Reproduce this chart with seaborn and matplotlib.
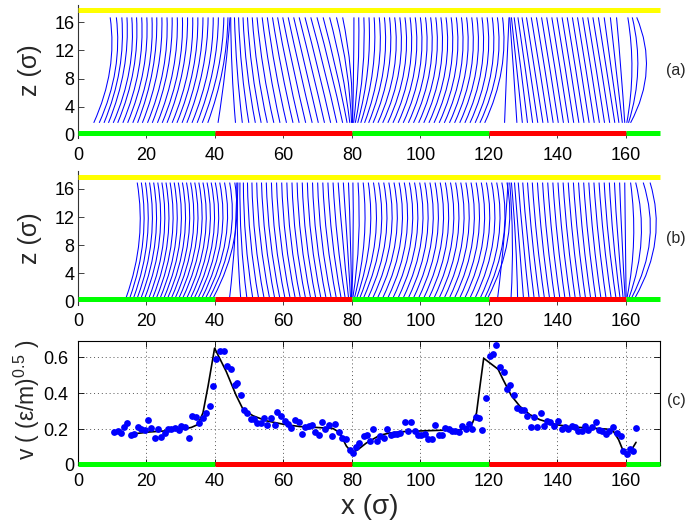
import numpy as np
import pandas as pd
import matplotlib
matplotlib.use("Agg")
import matplotlib.pyplot as plt
from matplotlib.path import Path
from matplotlib.patches import PathPatch
from matplotlib.transforms import ScaledTranslation
import seaborn as sns

sns.set_theme(style="white")
plt.rcParams['font.family'] = ['Liberation Sans', 'DejaVu Sans']
plt.rcParams['mathtext.fontset'] = 'custom'
plt.rcParams['mathtext.rm'] = 'Liberation Sans'
plt.rcParams['mathtext.it'] = 'Liberation Sans:italic'

# ---------------- data ----------------
wall_edges = [0, 40, 80, 120, 160, 170]
wall_colors = ['#00ff00', '#ff0000', '#00ff00', '#ff0000', '#00ff00']
x_ticks = [0, 20, 40, 60, 80, 100, 120, 140, 160]
z_ticks = [0, 4, 8, 12, 16]
v_ticks = [0, 0.2, 0.4, 0.6]

# panel (a): x of each line at z = a_z (bottom, middle, top)
a_z = [1.7, 9.2, 16.7]
a_bottom = [4.6, 6.2, 7.6, 8.9, 10.3, 11.6, 13.1, 14.5, 16.0, 17.4, 18.8, 20.3, 21.7, 23.2, 24.6, 26.0, 27.5, 28.9, 30.4, 31.8, 33.3, 34.8, 36.3, 37.9, 40.9,
            46.0, 48.0, 49.9, 51.8, 53.5, 55.3, 57.2, 59.0, 60.9, 62.8, 64.6, 66.5, 68.4, 70.2, 72.0, 73.8, 75.6, 77.3, 78.6, 79.4, 79.9, 80.1,
            80.2, 80.5, 81.0, 81.7, 82.6, 83.7, 84.9, 86.2, 87.6, 89.0, 90.5, 92.0, 93.5, 95.0, 96.5, 98.0, 99.5, 101.0, 102.5, 104.0, 105.5, 107.0, 108.5, 110.0, 111.5, 113.0, 114.5, 116.0, 117.4, 118.8,
            124.6, 128.2, 129.8, 131.3, 132.8, 134.3, 135.8, 137.3, 138.8, 140.3, 141.8, 143.3, 144.8, 146.3, 147.8, 149.3, 150.8, 152.3, 153.8, 155.3, 156.8, 158.0, 159.0, 159.7,
            160.3, 160.8, 161.4]
a_mid = [9.3, 10.9, 12.1, 13.4, 15.0, 16.2, 17.7, 19.1, 20.6, 21.8, 23.3, 24.9, 26.2, 27.8, 29.3, 30.6, 32.2, 33.6, 35.0, 36.4, 38.0, 39.4, 40.9, 42.2, 43.0,
         45.0, 46.5, 47.9, 49.4, 50.9, 52.5, 54.2, 56.0, 57.7, 59.5, 61.2, 63.0, 64.8, 66.6, 68.4, 70.2, 72.0, 73.8, 75.4, 77.0, 78.5, 79.6,
         80.5, 81.8, 83.2, 84.6, 86.1, 87.7, 89.2, 90.7, 92.3, 93.8, 95.3, 96.8, 98.3, 99.8, 101.3, 102.8, 104.3, 105.8, 107.3, 108.8, 110.3, 111.8, 113.3, 114.8, 116.3, 117.8, 119.3, 120.8, 122.3, 123.7,
         125.2, 127.2, 128.2, 129.4, 130.7, 132.0, 133.4, 134.9, 136.4, 137.9, 139.4, 140.9, 142.4, 143.9, 145.4, 146.9, 148.4, 149.9, 151.4, 152.9, 154.4, 155.8, 157.2, 158.6,
         161.8, 163.5, 166.0]
a_top = [9.4, 11.2, 12.8, 14.3, 15.7, 17.1, 18.6, 20.1, 21.6, 23.0, 24.5, 26.0, 27.5, 29.0, 30.5, 32.0, 33.5, 35.0, 36.5, 38.0, 39.5, 41.0, 42.6, 43.8, 44.4,
         44.6, 45.7, 46.9, 48.2, 49.5, 50.9, 52.3, 53.8, 55.3, 56.8, 58.3, 59.8, 61.4, 63.0, 64.6, 66.3, 68.0, 69.8, 71.6, 73.5, 75.5, 77.3,
         80.6, 82.0, 83.5, 85.0, 86.5, 88.0, 89.5, 91.0, 92.5, 94.0, 95.5, 97.0, 98.5, 100.0, 101.5, 103.0, 104.5, 106.0, 107.5, 109.0, 110.5, 112.0, 113.5, 115.0, 116.5, 118.0, 119.5, 121.0, 122.5, 124.0,
         125.9, 126.1, 126.6, 127.4, 128.5, 129.7, 131.0, 132.4, 133.9, 135.4, 136.9, 138.4, 139.9, 141.4, 142.9, 144.4, 145.9, 147.4, 148.9, 150.4, 152.0, 153.7, 155.5, 157.3,
         160.6, 161.9, 163.2]

# panel (b)
b_z = [0.6, 8.75, 16.9]
b_bottom = [14.1, 15.2, 16.3, 17.4, 18.5, 19.6, 20.8, 21.9, 23.0, 24.1, 25.2, 26.3, 27.4, 28.5, 29.6, 30.7, 31.9, 33.0, 34.1, 35.2, 36.3, 37.4, 38.5, 39.6,
            44.3, 47.5, 49.3, 51.0, 52.7, 54.3, 55.9, 57.4, 58.9, 60.4, 61.9, 63.4, 64.9, 66.4, 67.9, 69.4, 70.9, 72.4, 73.9, 75.4, 76.8, 78.0, 79.0, 79.6, 79.9,
            80.0, 80.3, 80.8, 81.5, 82.4, 83.5, 84.8, 86.2, 87.6, 89.1, 90.6, 92.1, 93.6, 95.1, 96.6, 98.1, 99.6, 101.1, 102.6, 104.1, 105.6, 107.1, 108.6, 110.1, 111.6, 113.1, 114.6, 116.1, 117.6, 118.9, 119.8,
            122.6, 126.5, 128.4, 130.1, 131.7, 133.2, 134.7, 136.2, 137.7, 139.2, 140.7, 142.2, 143.7, 145.2, 146.7, 148.2, 149.7, 151.2, 152.7, 154.2, 155.7, 157.1, 158.3, 159.2, 159.8, 160.1,
            160.4, 161.0, 161.8, 162.8]
b_mid = [17.9, 19.0, 20.2, 21.4, 22.6, 23.8, 25.0, 26.2, 27.4, 28.6, 29.8, 31.0, 32.2, 33.4, 34.6, 35.8, 37.0, 38.2, 39.4, 40.6, 41.8, 43.1, 44.4, 45.6,
         45.8, 46.6, 47.7, 49.0, 50.4, 51.8, 53.3, 54.8, 56.2, 57.7, 59.2, 60.7, 62.2, 63.7, 65.2, 66.7, 68.2, 69.7, 71.2, 72.8, 74.3, 75.8, 77.3, 78.6, 79.6,
         80.4, 82.0, 83.6, 85.2, 86.8, 88.3, 89.8, 91.3, 92.8, 94.3, 95.8, 97.3, 98.8, 100.3, 101.8, 103.3, 104.8, 106.3, 107.8, 109.3, 110.8, 112.3, 113.8, 115.3, 116.8, 118.3, 119.8, 121.3, 122.8, 124.2, 125.5,
         124.4, 126.9, 127.8, 128.8, 130.0, 131.3, 132.7, 134.1, 135.6, 137.1, 138.6, 140.1, 141.6, 143.1, 144.6, 146.1, 147.6, 149.1, 150.6, 152.1, 153.6, 155.0, 156.4, 157.7, 158.9, 159.9,
         162.3, 164.5, 167.0, 168.6]
b_top = [17.3, 18.5, 19.7, 20.9, 22.1, 23.3, 24.5, 25.7, 26.9, 28.1, 29.3, 30.5, 31.7, 32.9, 34.1, 35.3, 36.5, 37.7, 38.9, 40.1, 41.4, 42.8, 44.3, 45.8,
         46.4, 46.7, 47.3, 48.3, 49.5, 50.8, 52.2, 53.6, 55.0, 56.5, 58.0, 59.5, 61.0, 62.5, 64.0, 65.5, 67.0, 68.5, 70.0, 71.5, 73.0, 74.5, 76.0, 77.5, 79.0,
         80.3, 81.8, 83.3, 84.8, 86.3, 87.8, 89.3, 90.8, 92.3, 93.8, 95.3, 96.8, 98.3, 99.8, 101.3, 102.8, 104.3, 105.8, 107.3, 108.8, 110.3, 111.8, 113.3, 114.8, 116.3, 117.8, 119.3, 120.8, 122.3, 123.8, 125.3,
         125.6, 126.1, 126.6, 127.5, 128.6, 129.9, 131.3, 132.7, 134.2, 135.7, 137.2, 138.7, 140.2, 141.7, 143.2, 144.7, 146.2, 147.7, 149.2, 150.7, 152.2, 153.7, 155.2, 156.7, 158.2, 159.7,
         161.4, 162.9, 165.1, 167.1]

# panel (c): measured velocity (dots)
c_x = [10.4, 11.7, 12.6, 13.3, 14.4, 15.4, 16.4, 17.5, 18.5, 19.5, 20.4, 21.4, 22.4, 23.4, 24.3, 25.3, 26.3, 27.3, 28.2, 29.4,
       30.2, 31.3, 32.4, 33.3, 34.4, 35.3, 36.5, 37.5, 38.5, 39.4, 40.4, 41.4, 42.5, 43.6, 44.7, 45.8, 46.5, 47.5, 48.5, 49.5,
       50.4, 51.4, 52.4, 53.4, 54.3, 55.3, 56.5, 57.4, 58.2, 59.4, 60.4, 61.3, 62.3, 63.3, 64.5, 65.4, 66.4, 67.4, 68.3, 69.3,
       70.3, 71.3, 72.2, 73.2, 74.2, 75.2, 76.1, 77.1, 78.4, 79.4, 80.3, 81.3, 82.1, 83.4, 84.4, 85.4, 86.3, 87.3, 88.3, 89.3,
       90.3, 91.3, 92.3, 93.3, 94.2, 95.4, 96.4, 97.4, 98.3, 99.3, 100.3, 101.3, 102.2, 103.4, 104.4, 105.4, 106.3, 107.3, 108.3, 109.3,
       110.2, 111.3, 112.3, 113.3, 114.2, 115.2, 116.2, 117.2, 118.1, 119.3, 120.3, 121.1, 122.0, 123.4, 124.4, 125.4, 126.3, 127.3, 128.3, 129.3,
       130.2, 131.2, 132.2, 133.2, 134.2, 135.1, 136.1, 137.1, 138.0, 139.0, 140.3, 141.3, 142.2, 143.2, 144.2, 145.2, 146.1, 147.1, 148.1, 149.1,
       150.0, 151.2, 152.2, 153.2, 154.1, 155.1, 156.4, 157.4, 158.6, 159.3, 160.3, 161.3, 162.2, 163.0]
c_v = [0.184, 0.188, 0.180, 0.212, 0.231, 0.165, 0.175, 0.209, 0.200, 0.194, 0.252, 0.205, 0.148, 0.200, 0.158, 0.180, 0.200, 0.200, 0.205, 0.195,
       0.218, 0.214, 0.148, 0.274, 0.269, 0.233, 0.259, 0.288, 0.327, 0.440, 0.590, 0.637, 0.637, 0.553, 0.534, 0.447, 0.457, 0.387, 0.306, 0.288,
       0.256, 0.256, 0.231, 0.231, 0.259, 0.222, 0.259, 0.222, 0.293, 0.274, 0.246, 0.227, 0.205, 0.252, 0.237, 0.175, 0.214, 0.218, 0.224, 0.186,
       0.165, 0.242, 0.203, 0.222, 0.162, 0.227, 0.186, 0.152, 0.143, 0.083, 0.064, 0.101, 0.124, 0.159, 0.169, 0.135, 0.200, 0.135, 0.159, 0.150,
       0.200, 0.165, 0.172, 0.174, 0.178, 0.237, 0.190, 0.239, 0.190, 0.165, 0.169, 0.174, 0.144, 0.144, 0.220, 0.165, 0.169, 0.206, 0.200, 0.190,
       0.187, 0.181, 0.215, 0.200, 0.228, 0.202, 0.265, 0.261, 0.193, 0.372, 0.604, 0.617, 0.665, 0.544, 0.517, 0.422, 0.446, 0.391, 0.317, 0.304,
       0.307, 0.270, 0.211, 0.265, 0.211, 0.289, 0.215, 0.243, 0.237, 0.219, 0.243, 0.202, 0.211, 0.202, 0.219, 0.211, 0.191, 0.187, 0.215, 0.196,
       0.211, 0.237, 0.196, 0.191, 0.174, 0.191, 0.211, 0.178, 0.159, 0.076, 0.063, 0.089, 0.080, 0.206]

# panel (c): continuum prediction (line)
line_x = [17.0, 21.0, 25.8, 30.7, 33.1, 35.0, 36.5, 38.0, 39.9, 43.3, 46.2, 48.2, 51.1, 55.0, 59.9, 64.7, 69.6, 74.5, 76.4, 78.4,
          80.1, 81.8, 84.2, 88.1, 91.0, 95.9, 100.8, 105.7, 111.5, 114.0, 115.2, 116.4, 117.4, 118.5, 122.7, 124.2, 126.6, 129.1, 132.0, 134.9,
          139.8, 144.7, 149.6, 154.4, 156.4, 157.9, 159.1, 160.5, 161.7, 163.0]
line_v = [0.175, 0.184, 0.190, 0.200, 0.209, 0.225, 0.290, 0.440, 0.650, 0.520, 0.387, 0.310, 0.274, 0.246, 0.227, 0.214, 0.209, 0.203, 0.180, 0.105,
          0.068, 0.086, 0.122, 0.165, 0.178, 0.187, 0.190, 0.193, 0.196, 0.215, 0.233, 0.289, 0.437, 0.594, 0.533, 0.474, 0.385, 0.326, 0.280, 0.252,
          0.224, 0.211, 0.206, 0.200, 0.187, 0.141, 0.085, 0.067, 0.085, 0.126]

# ---------------- figure ----------------
fig = plt.figure(figsize=(6.88, 5.25), dpi=100)
L, W = 78 / 688, 582 / 688
ax_a = fig.add_axes([L, 0.7366, W, 0.2544])
ax_b = fig.add_axes([L, 0.4192, W, 0.2545])
ax_c = fig.add_axes([L, 0.1143, W, 0.2362])

TICK_FS = 13
LABEL_FS = 18


def draw_lines(ax, zs, bottoms, mids, tops):
    for b, m, t in zip(bottoms, mids, tops):
        p0 = (b, zs[0])
        p2 = (t, zs[2])
        ctrl = (2 * m - (b + t) / 2, 2 * zs[1] - (zs[0] + zs[2]) / 2)
        path = Path([p0, ctrl, p2], [Path.MOVETO, Path.CURVE3, Path.CURVE3])
        ax.add_patch(PathPatch(path, fill=False, edgecolor='#0000ff', lw=0.75, zorder=2))


def draw_walls(ax, z_bottom, z_top=None):
    for x0, x1, col in zip(wall_edges[:-1], wall_edges[1:], wall_colors):
        ax.plot([x0, x1], [z_bottom, z_bottom], color=col, lw=3.6,
                solid_capstyle='butt', clip_on=False, zorder=4)
    if z_top is not None:
        ax.plot([wall_edges[0], wall_edges[-1]], [z_top, z_top], color='#ffff00', lw=3.6,
                solid_capstyle='butt', clip_on=False, zorder=4)


for ax, zs, bb, mm, tt in [(ax_a, a_z, a_bottom, a_mid, a_top),
                           (ax_b, b_z, b_bottom, b_mid, b_top)]:
    draw_lines(ax, zs, bb, mm, tt)
    draw_walls(ax, 0.3, 17.75)
    ax.set_xlim(0, 170)
    ax.set_ylim(-0.5, 18.5)
    ax.set_xticks(x_ticks)
    ax.set_yticks(z_ticks)
    for s in ['top', 'right', 'bottom']:
        ax.spines[s].set_visible(False)
    ax.spines['left'].set_color('#333333')
    ax.spines['left'].set_linewidth(0.8)
    ax.tick_params(axis='both', direction='in', length=4, width=0.6, color='#222222',
                   labelsize=TICK_FS, labelcolor='black', left=True, bottom=True)
    ax.tick_params(axis='x', pad=6)
    ax.tick_params(axis='y', pad=2.5)
    ax.set_facecolor('white')

# panel (c)
df_pts = pd.DataFrame({'x': c_x, 'v': c_v})
df_line = pd.DataFrame({'x': line_x, 'v': line_v})
sns.lineplot(data=df_line, x='x', y='v', ax=ax_c, color='black', lw=1.2, sort=False, zorder=3)
sns.scatterplot(data=df_pts, x='x', y='v', ax=ax_c, color='#0000ff', s=24, linewidth=0, zorder=4)
draw_walls(ax_c, 0.004)
ax_c.set_xlim(0, 170)
ax_c.set_ylim(0, 0.69)
ax_c.set_xticks(x_ticks)
ax_c.set_yticks(v_ticks)
ax_c.set_yticklabels(['0', '0.2', '0.4', '0.6'])
ax_c.set_xlabel('')
ax_c.set_ylabel('')
ax_c.grid(True, linestyle=(0, (1, 3)), color='#555555', linewidth=0.7)
for s in ax_c.spines.values():
    s.set_visible(True)
    s.set_color('black')
    s.set_linewidth(0.8)
ax_c.tick_params(axis='both', direction='in', length=4, width=0.6, color='black',
                 labelsize=TICK_FS, labelcolor='black', top=True, right=True, left=True, bottom=True)
ax_c.tick_params(axis='x', pad=6)
ax_c.tick_params(axis='y', pad=7)
# MATLAB places the single-digit "0" label closer to the axis
zero_lbl = ax_c.get_yticklabels()[0]
zero_lbl.set_transform(zero_lbl.get_transform() + ScaledTranslation(6 / 100, 0, fig.dpi_scale_trans))

# labels
fig.text(30 / 688, 1 - 70 / 525, 'z (σ)', rotation=90, ha='center', va='center', fontsize=LABEL_FS)
fig.text(30 / 688, 1 - 238 / 525, 'z (σ)', rotation=90, ha='center', va='center', fontsize=LABEL_FS)
fig.text(27 / 688, 1 - 400 / 525, 'v ( (ε/m)$^{0.5}$ )', rotation=90, ha='center', va='center', fontsize=16.5)
fig.text(370 / 688, 1 - 507 / 525, 'x (σ)', ha='center', va='center', fontsize=LABEL_FS + 2)
fig.text(676 / 688, 1 - 71 / 525, '(a)', ha='center', va='center', fontsize=11.5)
fig.text(676 / 688, 1 - 238 / 525, '(b)', ha='center', va='center', fontsize=11.5)
fig.text(676 / 688, 1 - 400 / 525, '(c)', ha='center', va='center', fontsize=11.5)

fig.savefig('out.png', dpi=100)
